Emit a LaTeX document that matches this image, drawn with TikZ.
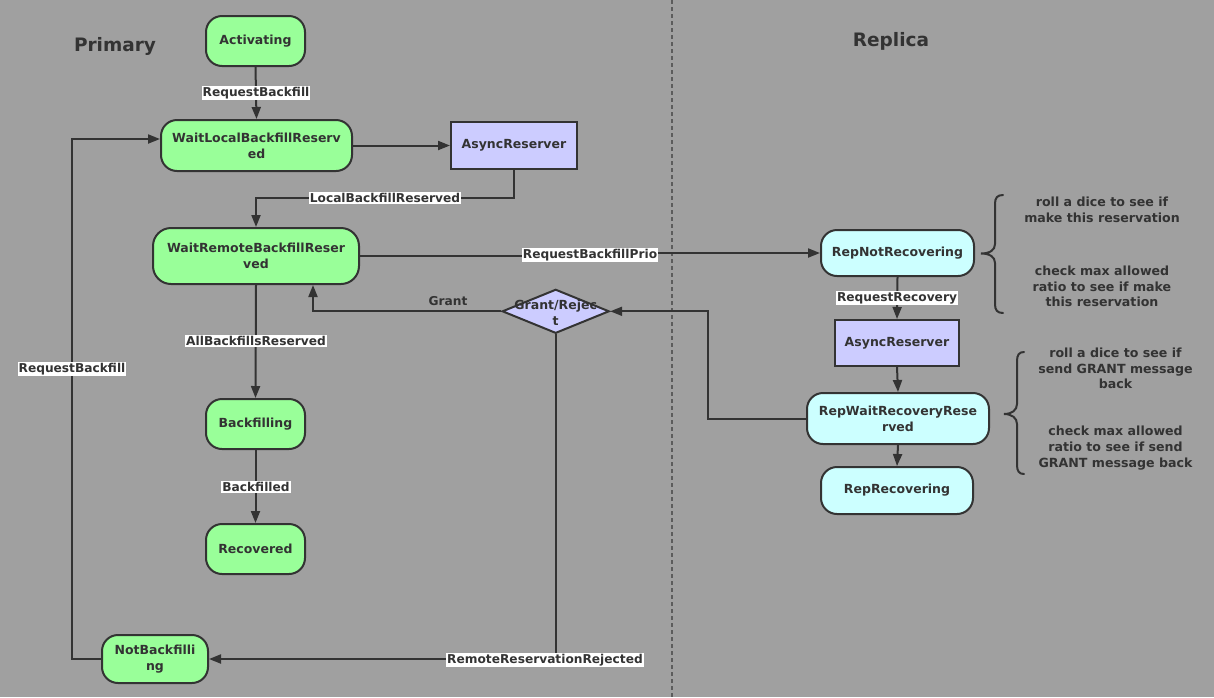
\documentclass[tikz,border=0pt]{standalone}
\usepackage{fontspec}
\setmainfont{DejaVu Sans}
\usetikzlibrary{arrows.meta,shapes.geometric}
\definecolor{bgc}{HTML}{A0A0A0}
\definecolor{ink}{HTML}{333333}
\definecolor{greenfill}{HTML}{99FF99}
\definecolor{cyanfill}{HTML}{CCFFFF}
\definecolor{lavfill}{HTML}{CCCCFF}
\definecolor{sepline}{HTML}{5C5C5C}

\begin{document}
\begin{tikzpicture}[x=1pt,y=-1pt,
  font=\fontsize{12.5}{15.7}\selectfont\bfseries, text=ink,
  state/.style={draw=ink, line width=2pt, rounded corners=16pt, align=center, inner sep=1pt},
  pstate/.style={state, fill=greenfill},
  rstate/.style={state, fill=cyanfill},
  rsv/.style={draw=ink, line width=2pt, fill=lavfill, align=center, inner sep=1pt},
  choice/.style={diamond, draw=ink, line width=2pt, fill=lavfill, inner sep=0pt},
  flow/.style={draw=ink, line width=2pt, -{Triangle[length=12pt,width=9pt]}},
  plain/.style={draw=ink, line width=2pt},
  tag/.style={fill=white, inner sep=1pt, text=ink, font=\fontsize{12.2}{14}\selectfont\bfseries},
  caption/.style={text=ink, font=\fontsize{12.2}{14}\selectfont\bfseries},
  note/.style={align=center, text=ink, font=\fontsize{12.6}{15.7}\selectfont\bfseries},
  heading/.style={text=ink, font=\fontsize{18.5}{22}\selectfont\bfseries}
]
% canvas
\fill[bgc] (0,0) rectangle (1214,697);
\useasboundingbox (0,0) rectangle (1214,697);

% divider between the two sides
\draw[sepline, line width=1.5pt, dash pattern=on 4pt off 3pt] (672,0) -- (672,697);

% side headings
\node[heading] (hprim) at (115,46) {Primary};
\node[heading] (hrep) at (891,41) {Replica};

% primary states
\node[pstate, minimum width=99pt, minimum height=50pt] (act) at (255.5,41) {Activating};
\node[pstate, minimum width=191pt, minimum height=51pt] (wlbr) at (256.5,145.5) {WaitLocalBackfillReserv\\ed};
\node[rsv, minimum width=126pt, minimum height=47pt] (ar1) at (514,145.5) {AsyncReserver};
\node[pstate, rounded corners=18pt, minimum width=206pt, minimum height=56pt] (wrbr) at (256,256) {WaitRemoteBackfillReser\\ved};
\node[pstate, minimum width=99pt, minimum height=50pt] (bf) at (255.5,424) {Backfilling};
\node[pstate, minimum width=99pt, minimum height=50pt] (rec) at (255.5,549) {Recovered};
\node[pstate, minimum width=106pt, minimum height=48pt] (nbf) at (155,659) {NotBackfilli\\ng};

% grant / reject decision
\node[choice, minimum width=107pt, minimum height=44pt] (dia) at (555.7,311.3) {};
\node[align=center, inner sep=0pt] (diat) at (555.7,312.5) {Grant/Rejec\\t};

% replica states
\node[rstate, minimum width=153pt, minimum height=46pt] (rnr) at (897.5,253) {RepNotRecovering};
\node[rsv, minimum width=124pt, minimum height=46pt] (ar2) at (897,343) {AsyncReserver};
\node[rstate, minimum width=182pt, minimum height=51pt] (rwrr) at (898,418.5) {RepWaitRecoveryRese\\rved};
\node[rstate, minimum width=152pt, minimum height=47pt] (rr) at (897,490.5) {RepRecovering};

% primary transitions
\draw[flow] (act.south) -- (wlbr.north);
\node[tag] (l1) at (256,93) {RequestBackfill};
\draw[flow] (wlbr.east) -- (ar1.west);
\draw[flow] (ar1.south) -- (514,198) -- (256,198) -- (wrbr.north);
\node[tag] (l2) at (385,198) {LocalBackfillReserved};
\draw[flow] (wrbr.south) -- (bf.north);
\node[tag] (l3) at (256,341) {AllBackfillsReserved};
\draw[flow] (bf.south) -- (rec.north);
\node[tag] (l4) at (256,487) {Backfilled};
\draw[flow] (nbf.west) -- (72,659) -- (72,139) -- ([yshift=6.5pt]wlbr.west);
\node[tag] (l5) at (72,369) {RequestBackfill};

% request to the replica
\draw[flow] (wrbr.east) -- (590,256) -- (590,253) -- (rnr.west);
\node[tag] (l6) at (590,255) {RequestBackfillPrio};

% replica transitions
\draw[flow] (rnr.south) -- (ar2.north);
\node[tag] (l7) at (897,298) {RequestRecovery};
\draw[flow] (ar2.south) -- (rwrr.north);
\draw[flow] (rwrr.south) -- (rr.north);

% answer back to the primary
\draw[flow] (rwrr.west) -- (708,418.5) -- (708,311.3) -- (dia.east);
\draw[flow] (dia.west) -| ([xshift=57pt]wrbr.south);
\node[caption] (l8) at (448,301) {Grant};
\draw[flow] (dia.south) |- (nbf.east);
\node[tag] (l9) at (545,660) {RemoteReservationRejected};

% braces with the reservation notes
\draw[plain, line cap=round] (1003,195) .. controls (997,195) and (995,198) .. (995,204)
  -- (995,244) .. controls (995,250) and (990,253.5) .. (981,253.5)
  .. controls (990,253.5) and (995,257) .. (995,263)
  -- (995,304) .. controls (995,310) and (997,313) .. (1003,313);
\draw[plain, line cap=round] (1024,352) .. controls (1019,352) and (1017,355) .. (1017,361)
  -- (1017,404) .. controls (1017,410) and (1012,414) .. (1004,414)
  .. controls (1012,414) and (1017,418) .. (1017,424)
  -- (1017,465) .. controls (1017,471) and (1019,474) .. (1024,474);

\node[note] (n1) at (1102,209.5) {roll a dice to see if\\make this reservation};
\node[note] (n2) at (1102,286.5) {check max allowed\\ratio to see if make\\this reservation};
\node[note] (n3) at (1115.5,368.5) {roll a dice to see if\\send GRANT message\\back};
\node[note] (n4) at (1115.5,448) {check max allowed\\ratio to see if send\\GRANT message back};
\end{tikzpicture}
\end{document}
